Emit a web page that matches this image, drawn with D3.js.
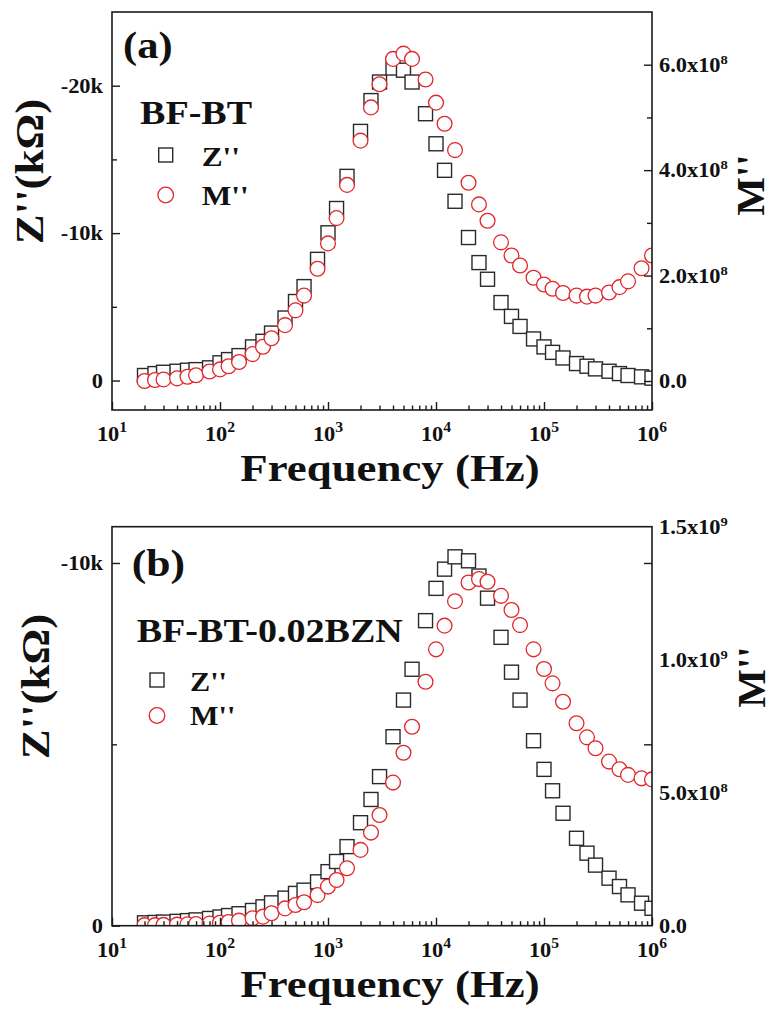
<!DOCTYPE html>
<html><head><meta charset="utf-8">
<script src="https://cdn.jsdelivr.net/npm/d3@7"></script>
<style>body{margin:0;background:#fff}svg{display:block}</style>
</head><body>
<svg id="chart" width="774" height="1010"></svg>
<script>
// ---------------- data ----------------
const freq = [20,25,30,40,50,60,80,100,120,150,200,250,300,400,500,600,800,
  1e3,1.2e3,1.5e3,2e3,2.5e3,3e3,4e3,5e3,6e3,8e3,
  1e4,1.2e4,1.5e4,2e4,2.5e4,3e4,4e4,5e4,6e4,8e4,
  1e5,1.2e5,1.5e5,2e5,2.5e5,3e5,4e5,5e5,6e5,8e5,1e6];

// panel (a) BF-BT : -Z'' in kΩ, M'' in units of 1e8
const zA = [0.34,0.47,0.56,0.63,0.70,0.74,0.86,1.20,1.42,1.69,2.28,2.66,3.22,4.24,5.36,6.37,8.22,
  10.02,11.67,13.85,16.9,18.99,20.25,21.2,21.05,20.25,18.1,
  16.06,14.26,12.16,9.7,8.0,6.87,5.29,4.35,3.67,2.82,
  2.28,1.91,1.53,1.15,0.97,0.79,0.63,0.47,0.34,0.25,0.16];
const mA = [0.0,0.02,0.03,0.05,0.08,0.11,0.18,0.22,0.28,0.36,0.51,0.65,0.81,1.06,1.34,1.62,2.13,
  2.61,3.09,3.72,4.56,5.19,5.63,6.11,6.21,6.11,5.72,
  5.28,4.88,4.38,3.76,3.35,3.04,2.63,2.38,2.19,1.96,
  1.83,1.75,1.67,1.62,1.60,1.62,1.68,1.78,1.89,2.14,2.38];

// panel (b) BF-BT-0.02BZN : -Z'' in kΩ, M'' in units of 1e8
const zB = [0.08,0.09,0.10,0.12,0.14,0.16,0.20,0.24,0.28,0.33,0.42,0.52,0.63,0.76,0.89,0.98,1.21,
  1.49,1.77,2.18,2.84,3.48,4.11,5.21,6.22,7.07,8.41,
  9.30,9.83,10.17,10.06,9.64,9.03,7.95,6.99,6.22,5.10,
  4.31,3.72,3.10,2.41,2.00,1.67,1.31,1.08,0.85,0.62,0.48];
const mB = [0.02,0.02,0.03,0.04,0.05,0.06,0.08,0.11,0.14,0.19,0.28,0.34,0.47,0.65,0.78,0.88,1.15,
  1.47,1.72,2.16,2.85,3.50,4.16,5.38,6.50,7.48,9.17,
  10.39,11.28,12.2,12.9,13.03,12.93,12.4,11.87,11.3,10.39,
  9.65,9.11,8.42,7.61,7.08,6.67,6.17,5.88,5.67,5.54,5.50];

// tick values / labels
const xDecades = [1,2,3,4,5,6];
const zTicksA = [0,10,20], zLabelsA = ["0","-10k","-20k"], zMinorA = [5,15];
const mTicksA = [0,2,4,6], mMinorA = [1,3,5];
const mLabelsA = [["0.0",""],["2.0x10","8"],["4.0x10","8"],["6.0x10","8"]];
const zTicksB = [0,10], zLabelsB = ["0","-10k"], zMinorB = [5];
const mLabelValsB = [0,5,10,15];
const mLabelsB = [["0.0",""],["5.0x10","8"],["1.0x10","9"],["1.5x10","9"]];
const mRightTicksB = [5,10]; // right-axis tick marks (drawn at Z-scale positions, as in the original)

// ---------------- drawing ----------------
const FONT = "'Liberation Serif','Times New Roman',Times,serif";
const svg = d3.select("#chart");
const X0 = 112, X1 = 652;
const x = d3.scaleLog().domain([10,1e6]).range([X0,X1]);
const SQ = "#2a2a2a", RED = "#e2262b";

function label(g, px, py, parts, o) {
  const t = g.append("text")
    .attr("transform", `translate(${px},${py})${o.rot ? ` rotate(${o.rot})` : ""} scale(${o.sx ?? 1.12},1)`)
    .attr("text-anchor", o.anchor || "start")
    .style("font-family", FONT).style("font-weight", "bold")
    .style("font-size", o.size + "px").attr("fill", "#111");
  t.append("tspan").text(parts[0]);
  if (parts[1]) t.append("tspan").attr("dy", -(o.supDy || 8)).style("font-size", (o.supSize || 13) + "px").text(parts[1]);
  return t;
}

const panels = [
  {id:"a", top:12, bottom:410, zDom:[-2,25], mDom:[-0.55,7.0], z:zA, m:mA,
   zTicks:zTicksA, zLabels:zLabelsA, zMinor:zMinorA,
   mTicks:mTicksA, mMinor:mMinorA, mLabelVals:mTicksA, mLabels:mLabelsA, rightOnZ:false,
   tag:"(a)", tagX:123, tagY:57.5, tagSize:38,
   name:"BF-BT", nameX:140, nameY:124.3,
   legSqY:155, legCiY:195, legX:165.7, legTX:201.7, legSize:28,
   ztX:43, ztY:171.5, mtX:764, mtY:185},
  {id:"b", top:526.7, bottom:925.7, zDom:[0,11], mDom:[0,15], z:zB, m:mB,
   zTicks:zTicksB, zLabels:zLabelsB, zMinor:zMinorB,
   mTicks:mRightTicksB, mMinor:[], mLabelVals:mLabelValsB, mLabels:mLabelsB, rightOnZ:true,
   tag:"(b)", tagX:131.7, tagY:575.5, tagSize:39,
   name:"BF-BT-0.02BZN", nameX:136.7, nameY:641.7,
   legSqY:680, legCiY:715.5, legX:157, legTX:190, legSize:27,
   ztX:49, ztY:686.5, mtX:765, mtY:677}
];

panels.forEach(p => {
  const g = svg.append("g");
  const yZ = d3.scaleLinear().domain(p.zDom).range([p.bottom, p.top]);
  const yM = d3.scaleLinear().domain(p.mDom).range([p.bottom, p.top]);

  // clip
  const cid = "clip-" + p.id;
  svg.append("clipPath").attr("id", cid).append("rect")
    .attr("x", X0).attr("y", p.top).attr("width", X1 - X0).attr("height", p.bottom - p.top);

  // data markers
  const dg = g.append("g").attr("clip-path", `url(#${cid})`);
  const S = 14;
  dg.selectAll("rect.z").data(freq.map((f,i)=>[f,p.z[i]])).join("rect").attr("class","z")
    .attr("x", d => x(d[0]) - S/2).attr("y", d => yZ(d[1]) - S/2)
    .attr("width", S).attr("height", S)
    .attr("fill", "#fff").attr("stroke", SQ).attr("stroke-width", 1.4);
  dg.selectAll("circle.m").data(freq.map((f,i)=>[f,p.m[i]])).join("circle").attr("class","m")
    .attr("cx", d => x(d[0])).attr("cy", d => yM(d[1])).attr("r", 7.4)
    .attr("fill", "#fff").attr("stroke", RED).attr("stroke-width", 1.3);

  // axes (ticks inward)
  const styleAx = sel => { sel.select(".domain").remove(); sel.selectAll("line").attr("stroke","#1a1a1a").attr("stroke-width",1.4); sel.selectAll("text").remove(); };
  const minorX = [];
  xDecades.slice(0,-1).forEach(e => { for (let k=2;k<=9;k++) minorX.push(k*Math.pow(10,e)); });
  g.append("g").attr("transform",`translate(0,${p.bottom})`)
    .call(d3.axisBottom(x).tickValues(xDecades.map(e=>Math.pow(10,e))).tickSize(-8).tickFormat("")).call(styleAx);
  g.append("g").attr("transform",`translate(0,${p.bottom})`)
    .call(d3.axisBottom(x).tickValues(minorX).tickSize(-4.5).tickFormat("")).call(styleAx);
  g.append("g").attr("transform",`translate(${X0},0)`)
    .call(d3.axisLeft(yZ).tickValues(p.zTicks).tickSize(-8).tickFormat("")).call(styleAx);
  g.append("g").attr("transform",`translate(${X0},0)`)
    .call(d3.axisLeft(yZ).tickValues(p.zMinor).tickSize(-5).tickFormat("")).call(styleAx);
  g.append("g").attr("transform",`translate(${X1},0)`)
    .call(d3.axisRight(p.rightOnZ ? yZ : yM).tickValues(p.mTicks).tickSize(-8).tickFormat("")).call(styleAx);
  if (p.mMinor.length)
    g.append("g").attr("transform",`translate(${X1},0)`)
      .call(d3.axisRight(yM).tickValues(p.mMinor).tickSize(-5).tickFormat("")).call(styleAx);

  // frame
  g.append("rect").attr("x", X0).attr("y", p.top).attr("width", X1 - X0).attr("height", p.bottom - p.top)
    .attr("fill","none").attr("stroke","#1a1a1a").attr("stroke-width",1.6);

  // tick labels
  xDecades.forEach(e => label(g, x(Math.pow(10,e)), p.bottom + 31, ["10", String(e)],
    {size:20, anchor:"middle", supSize:14, supDy:9}));
  p.zTicks.forEach((v,i) => label(g, 103, yZ(v) + 7, [p.zLabels[i]], {size:20, anchor:"end"}));
  p.mLabelVals.forEach((v,i) => label(g, 659, yM(v) + 7, p.mLabels[i], {size:20, supSize:13, supDy:8}));

  // axis titles
  label(g, 390, p.bottom + 71, ["Frequency (Hz)"], {size:39, anchor:"middle", sx:1.15});
  label(g, p.ztX, p.ztY, ["Z''(k\u03A9)"], {size:40, anchor:"middle", rot:-90});
  label(g, p.mtX, p.mtY, ["M''"], {size:41, anchor:"middle", rot:-90, sx:1.0});

  // panel tag, sample name, legend
  label(g, p.tagX, p.tagY, [p.tag], {size:p.tagSize});
  label(g, p.nameX, p.nameY, [p.name], {size:34});
  g.append("rect").attr("x", p.legX - 7).attr("y", p.legSqY - 7).attr("width", 14).attr("height", 14)
    .attr("fill","#fff").attr("stroke", SQ).attr("stroke-width", 1.4);
  g.append("circle").attr("cx", p.legX).attr("cy", p.legCiY).attr("r", 7.8)
    .attr("fill","#fff").attr("stroke", RED).attr("stroke-width", 1.3);
  label(g, p.legTX, p.legSqY + 10.5, ["Z''"], {size:p.legSize});
  label(g, p.legTX, p.legCiY + 9.5, ["M''"], {size:p.legSize});
});
</script>
</body></html>
